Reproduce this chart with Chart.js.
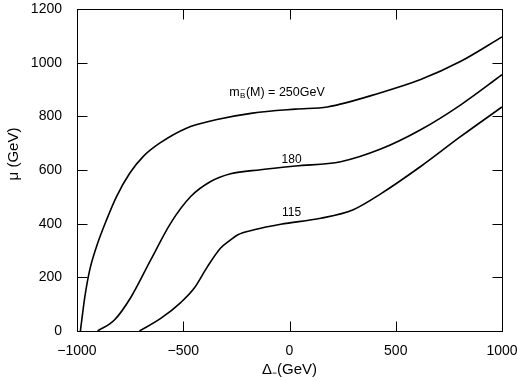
<!DOCTYPE html>
<html>
<head>
<meta charset="utf-8">
<script src="https://cdn.jsdelivr.net/npm/chart.js@4/dist/chart.umd.min.js"></script>
<style>
  html, body { margin: 0; padding: 0; background: #fff; }
  #wrap { width: 517px; height: 381px; }
</style>
</head>
<body>
<div id="wrap"><canvas id="chart" width="517" height="381"></canvas></div>
<script>
// curve values (Delta_- in GeV, mu in GeV)
const x250 = [-984, -963, -940, -908, -861, -814, -752, -689, -611, -485, -347, -174, 29, 178, 429, 617, 806, 1000];
const y250 = [0, 128, 228, 315, 414, 501, 588, 650, 700, 756, 787, 812, 827, 835, 888, 937, 1005, 1096];

const x180 = [-903, -824, -747, -653, -559, -465, -371, -277, -136, 29, 241, 429, 617, 806, 1000];
const y180 = [0, 41, 125, 265, 402, 501, 557, 586, 601, 615, 631, 678, 750, 843, 955];

const x115 = [-706, -606, -512, -449, -386, -324, -277, -245, -167, -41, 147, 300, 429, 617, 806, 1000];
const y115 = [0, 47, 106, 159, 240, 309, 340, 358, 377, 398, 420, 452, 511, 613, 725, 835];

const xTicks = [-1000, -500, 0, 500, 1000];
const yTicks = [0, 200, 400, 600, 800, 1000, 1200];

const FONT = '"Liberation Sans", Arial, Helvetica, sans-serif';

function pts(xs, ys) {
  return xs.map((x, i) => ({ x: x, y: ys[i] }));
}

function curve(xs, ys) {
  return {
    data: pts(xs, ys),
    showLine: true,
    borderColor: '#000',
    borderWidth: 1.6,
    pointRadius: 0,
    cubicInterpolationMode: 'monotone',
    fill: false
  };
}

// frame, inward ticks and the text labels
const decor = {
  id: 'decor',
  afterDatasetsDraw(chart) {
    const ctx = chart.ctx;
    const a = chart.chartArea;
    const xs = chart.scales.x, ys = chart.scales.y;
    const L = Math.round(a.left) + 0.5, R = Math.round(a.right) + 0.5;
    const T = Math.round(a.top) + 0.5, B = Math.round(a.bottom) + 0.5;
    ctx.save();
    ctx.strokeStyle = '#000';
    ctx.lineWidth = 1;
    ctx.strokeRect(L, T, R - L, B - T);
    ctx.beginPath();
    xTicks.slice(1, -1).forEach(v => {
      const px = Math.round(xs.getPixelForValue(v)) + 0.5;
      ctx.moveTo(px, B); ctx.lineTo(px, B - 10);
      ctx.moveTo(px, T); ctx.lineTo(px, T + 10);
    });
    yTicks.slice(1, -1).forEach(v => {
      const py = Math.round(ys.getPixelForValue(v)) + 0.5;
      ctx.moveTo(L, py); ctx.lineTo(L + 10, py);
      ctx.moveTo(R, py); ctx.lineTo(R - 10, py);
    });
    ctx.stroke();

    ctx.fillStyle = '#000';
    ctx.textBaseline = 'alphabetic';

    // curve labels
    ctx.font = '12px ' + FONT;
    ctx.textAlign = 'center';
    ctx.fillText('180', xs.getPixelForValue(10), ys.getPixelForValue(626));
    ctx.fillText('115', xs.getPixelForValue(10), ys.getPixelForValue(430));

    // m_B~(M) = 250GeV
    ctx.textAlign = 'left';
    let px = xs.getPixelForValue(-284);
    const base = ys.getPixelForValue(875);
    ctx.font = '12.5px ' + FONT;
    ctx.fillText('m', px, base);
    px += ctx.measureText('m').width + 0.5;
    ctx.font = '8px ' + FONT;
    ctx.fillText('B', px, base + 2);
    const bw = ctx.measureText('B').width;
    ctx.fillText('~', px + bw / 2 - ctx.measureText('~').width / 2, base - 4);
    px += bw + 0.5;
    ctx.font = '12.5px ' + FONT;
    ctx.fillText('(M) = 250GeV', px, base);

    // y axis title
    ctx.font = '15px ' + FONT;
    ctx.translate(14, 154);
    ctx.rotate(-Math.PI / 2);
    ctx.textAlign = 'center';
    ctx.textBaseline = 'middle';
    ctx.fillText('\u03bc (GeV)', 0, 0);
    ctx.restore();
  }
};

const minus = v => String(v).replace('-', '\u2212');

// keep the plot box where the layout padding puts it
function noOverflow(s) {
  s.paddingLeft = 0; s.paddingRight = 0;
  s.paddingTop = 0; s.paddingBottom = 0;
}

new Chart(document.getElementById('chart').getContext('2d'), {
  type: 'scatter',
  data: {
    datasets: [curve(x250, y250), curve(x180, y180), curve(x115, y115)]
  },
  options: {
    responsive: false,
    animation: false,
    layout: { padding: { left: 0, top: 9, right: 15, bottom: 0 } },
    plugins: { legend: { display: false }, tooltip: { enabled: false } },
    scales: {
      x: {
        type: 'linear',
        min: -1000, max: 1000,
        afterBuildTicks: s => { s.ticks = xTicks.map(v => ({ value: v })); },
        afterFit: s => { s.height = 50; noOverflow(s); },
        grid: { display: false },
        border: { display: false },
        ticks: {
          color: '#000',
          padding: 4,
          maxRotation: 0,
          font: { family: FONT, size: 14 },
          callback: minus
        },
        title: {
          display: true,
          text: '\u0394\u208b(GeV)',
          color: '#000',
          font: { family: FONT, size: 15 },
          padding: { top: 0, bottom: 2 }
        }
      },
      y: {
        type: 'linear',
        min: 0, max: 1200,
        afterBuildTicks: s => { s.ticks = yTicks.map(v => ({ value: v })); },
        afterFit: s => { s.width = 77; noOverflow(s); },
        grid: { display: false },
        border: { display: false },
        ticks: {
          color: '#000',
          padding: 7,
          font: { family: FONT, size: 14 },
          callback: minus
        }
      }
    }
  },
  plugins: [decor]
});
</script>
</body>
</html>
